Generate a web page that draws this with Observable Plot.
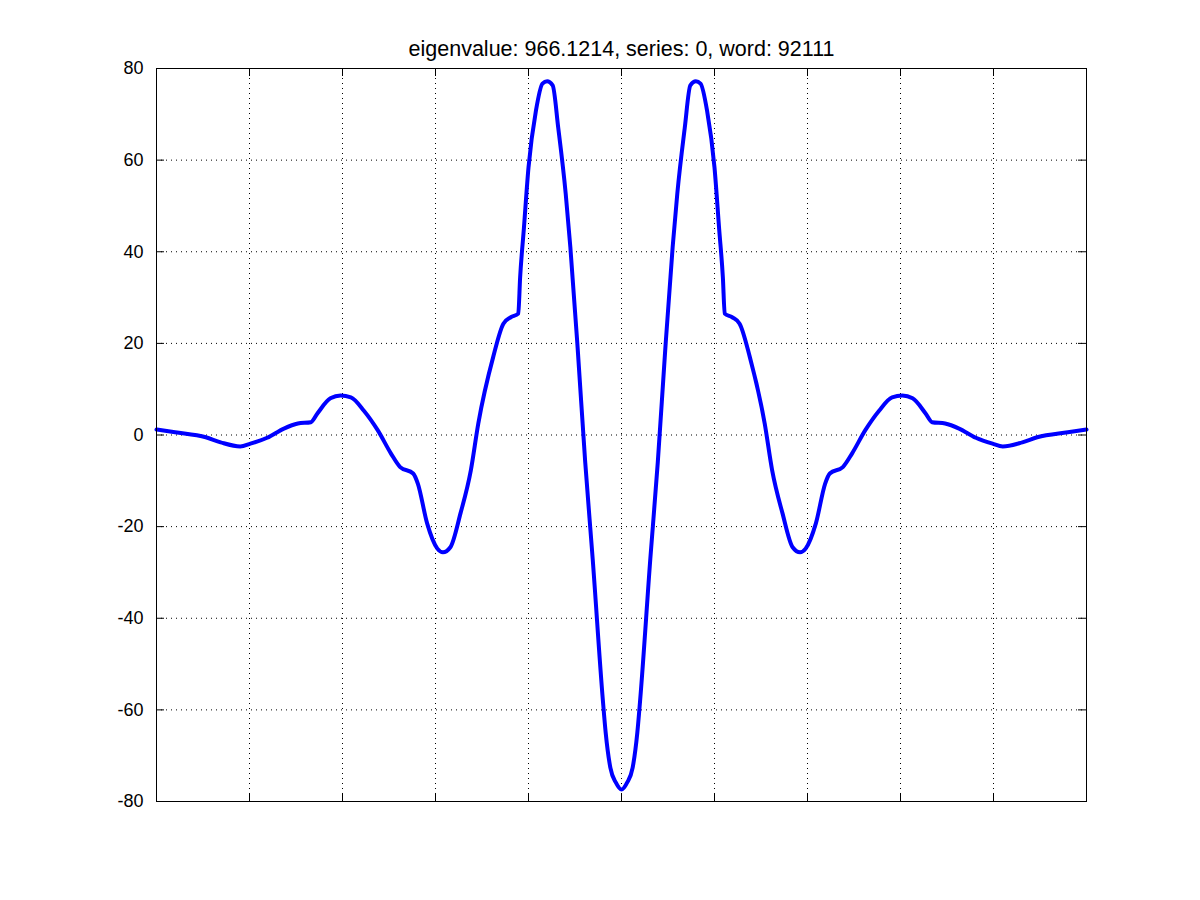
<!DOCTYPE html>
<html>
<head>
<meta charset="utf-8">
<script src="https://cdn.jsdelivr.net/npm/d3@7"></script>
<script src="https://cdn.jsdelivr.net/npm/@observablehq/plot@0.6"></script>
<style>
  html, body { margin: 0; padding: 0; background: #fff; }
  #chart { width: 1200px; height: 900px; }
</style>
</head>
<body>
<div id="chart"></div>
<script>
const titleText = "eigenvalue: 966.1214, series: 0, word: 92111";
const xTicks = [0, 10, 20, 30, 40, 50, 60, 70, 80, 90, 100];
const yTicks = [-80, -60, -40, -20, 0, 20, 40, 60, 80];

const xs = [
  0, 2.0, 5.3, 6.9, 9.0, 10.1, 11.9, 13.7, 15.2, 16.6, 17.3, 18.7, 19.8, 20.9,
  22.3, 23.8, 25.2, 26.2, 27.6, 28.1, 29.1, 30.2, 30.8, 31.6, 32.7, 33.8, 34.6,
  36.2, 37.3, 38.1, 38.9, 39.1, 39.5, 40.0, 40.8, 41.5, 42.0, 42.6, 43.2, 44.0,
  44.5, 45.3, 46.1, 46.9, 48.0, 48.3, 48.8, 49.4, 50.0,
  50.6, 51.2, 51.7, 52.0, 53.1, 53.9, 54.7, 55.5, 56.0, 56.8, 57.4, 58.0, 58.5,
  59.2, 60.0, 60.5, 60.9, 61.1, 61.9, 62.7, 63.8, 65.4, 66.2, 67.3, 68.4, 69.2,
  69.8, 70.9, 71.9, 72.4, 73.8, 74.8, 76.2, 77.7, 79.1, 80.2, 81.3, 82.7, 83.4,
  84.8, 86.3, 88.1, 89.9, 91.0, 93.1, 94.7, 98.0, 100
];
const ys = [
  1.2, 0.6, -0.5, -1.6, -2.5, -1.9, -0.6, 1.4, 2.5, 2.8, 4.7, 8.0, 8.6, 8.2,
  5.3, 1.0, -4.0, -7.0, -8.4, -10.6, -19.3, -24.8, -25.6, -24.5, -17.0, -7.7, 2.5,
  17.0, 24.3, 25.7, 26.5, 34.4, 45.0, 58.4, 70.8, 76.7, 77.2, 76.3, 67.0, 52.7,
  41.0, 18.5, -6.0, -27.0, -58.0, -65.0, -72.6, -75.9, -77.4,
  -75.9, -72.6, -65.0, -58.0, -27.0, -6.0, 18.5, 41.0, 52.7, 67.0, 76.3, 77.2, 76.7,
  70.8, 58.4, 45.0, 34.4, 26.5, 25.7, 24.3, 17.0, 2.5, -7.7, -17.0, -24.5, -25.6,
  -24.8, -19.3, -10.6, -8.4, -7.0, -4.0, 1.0, 5.3, 8.2, 8.6, 8.0, 4.7, 2.8,
  2.5, 1.4, -0.6, -1.9, -2.5, -1.6, -0.5, 0.6, 1.2
];

const data = xs.map((x, i) => ({x, y: ys[i]}));
const innerX = xTicks.slice(1, -1);
const innerY = yTicks.slice(1, -1);
const xTickLen = 0.86;  // ~8px in x units
const yTickLen = 1.75;  // ~8px in y units

const chart = Plot.plot({
  width: 1200,
  height: 900,
  marginLeft: 156,
  marginRight: 114,
  marginTop: 68,
  marginBottom: 99,
  style: {fontFamily: "'Liberation Sans', Arial, sans-serif", fontSize: "18px", background: "#fff", color: "#000"},
  x: {domain: [0, 100], axis: null},
  y: {domain: [-80, 80], axis: null},
  marks: [
    Plot.ruleX(innerX, {stroke: "#000", strokeDasharray: "1,4", strokeWidth: 1}),
    Plot.ruleY(innerY, {stroke: "#000", strokeDasharray: "1,4", strokeWidth: 1}),
    Plot.ruleX(innerX, {y1: -80, y2: -80 + yTickLen, stroke: "#000"}),
    Plot.ruleX(innerX, {y1: 80, y2: 80 - yTickLen, stroke: "#000"}),
    Plot.ruleY(innerY, {x1: 0, x2: xTickLen, stroke: "#000"}),
    Plot.ruleY(innerY, {x1: 100, x2: 100 - xTickLen, stroke: "#000"}),
    Plot.axisY(yTicks, {anchor: "left", tickSize: 0, tickPadding: 13, tickFormat: d => String(d), fontSize: 18, label: null}),
    Plot.line(data, {x: "x", y: "y", stroke: "#0000ff", strokeWidth: 4, strokeLinejoin: "round", curve: "monotone-x"}),
    Plot.frame({stroke: "#000", strokeWidth: 1}),
    Plot.text([titleText], {frameAnchor: "top", dy: -28, text: d => d, fontSize: 21.5, fill: "#000"})
  ]
});
document.getElementById("chart").appendChild(chart);
</script>
</body>
</html>
